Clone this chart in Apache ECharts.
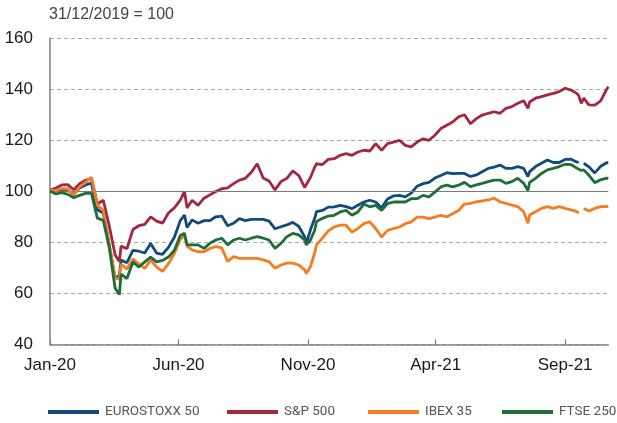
<!DOCTYPE html>
<html>
<head>
<meta charset="utf-8">
<script src="https://cdn.jsdelivr.net/npm/echarts@6/dist/echarts.min.js"></script>
<style>
html,body{margin:0;padding:0;background:#fff;}
#chart{width:617px;height:423px;}
</style>
</head>
<body>
<div id="chart"></div>
<script>
const dates = [
'2020-01-01','2020-01-08','2020-01-15','2020-01-22','2020-01-29','2020-02-05','2020-02-12','2020-02-19','2020-02-26','2020-03-04',
'2020-03-11','2020-03-18','2020-03-23','2020-03-25','2020-04-01','2020-04-08','2020-04-15','2020-04-22','2020-04-29','2020-05-06',
'2020-05-13','2020-05-20','2020-05-27','2020-06-03','2020-06-08','2020-06-11','2020-06-17','2020-06-24','2020-07-01','2020-07-08',
'2020-07-15','2020-07-22','2020-07-29','2020-08-05','2020-08-12','2020-08-19','2020-08-26','2020-09-02','2020-09-09','2020-09-16',
'2020-09-23','2020-09-30','2020-10-07','2020-10-14','2020-10-21','2020-10-28','2020-10-30','2020-11-04','2020-11-09','2020-11-11',
'2020-11-18','2020-11-25','2020-12-02','2020-12-09','2020-12-16','2020-12-23','2020-12-30','2021-01-06','2021-01-13','2021-01-20',
'2021-01-27','2021-02-03','2021-02-10','2021-02-17','2021-02-24','2021-03-03','2021-03-10','2021-03-17','2021-03-24','2021-03-31',
'2021-04-07','2021-04-14','2021-04-21','2021-04-28','2021-05-05','2021-05-12','2021-05-19','2021-05-26','2021-06-02','2021-06-09',
'2021-06-16','2021-06-23','2021-06-30','2021-07-07','2021-07-14','2021-07-19','2021-07-21','2021-07-28','2021-08-04','2021-08-11',
'2021-08-18','2021-08-25','2021-09-01','2021-09-08','2021-09-15','2021-09-17','2021-09-20','2021-09-23','2021-09-29','2021-10-06',
'2021-10-13','2021-10-20','2021-10-22'
];

const eurostoxx50 = [
100,100.3,100.8,100.5,98.8,101.3,102.5,103.2,92.8,91.5,
79,66,67,73,72,76.8,76.5,75.8,79.5,75.8,
75.3,78,82,88.5,90.7,85.8,88.8,87.5,88.5,88.5,
90,90.3,86.5,87.5,89.3,88.5,89,89,89,88.3,
85.3,86.1,86.8,87.8,86.3,82.2,79.5,85,89.5,92,
92.5,93.8,93.9,94.5,94,93.2,94.5,95.8,96.5,95.8,
93.5,97,98.2,98.4,97.8,99.3,102,103,103.5,105.2,
106.2,107.3,106.9,107,107,105.8,106.4,107.7,109,109.5,
110.3,109,109,109.7,109,105.8,107.7,109.7,111,112.3,
111.3,111.3,112.5,112.6,111.4,111.6,null,111,109.6,107.2,
109.8,111.2,111.2
];

const sp500 = [
100.5,101.3,102.5,102.6,100.6,103,104.3,105,95,96.5,
86.5,75,72.5,78.5,77.5,85,86.5,87,90,88.3,
87.5,91.5,93.5,96.5,100,93.5,96.5,94.5,97.3,98.6,
99.9,101,101.3,103,104.4,105.1,107.5,110.8,105.2,104,
100.5,103.8,105.1,108,106.2,101.5,101.2,105.5,109.5,110.8,
110.5,112.5,112.8,114.1,114.8,114.1,115.4,116.1,115.8,118.7,
116.1,118.7,119.3,120,118,117.4,119.3,120.6,120,122,
124.6,125.9,127.2,129.2,130,126.5,128.5,129.9,130.6,131.2,
130.6,132.5,133.2,134.5,135.5,132.5,135,136.5,137.1,137.8,
138.4,139.1,140.4,139.7,138.3,137.5,134.5,136.5,133.9,133.8,
135.5,140,141
];

const ibex35 = [
100.3,100.5,101,101,98.5,101.7,103.5,105.5,94.5,92.5,
79,66,65.5,71.5,69.5,73.5,71.5,69.8,73,70.3,
68.6,71.6,75.6,81.2,83,78.5,77,76.3,76.3,77.6,
78.3,77.8,72.5,74.4,73.7,73.7,73.7,73.7,73.1,72.4,
69.8,71.1,71.8,71.8,71.1,69.2,67.8,70.5,76,79,
81.6,84.5,86,86.7,86.7,84,85.4,87.3,88,85.4,
82.1,84.7,85.4,86,87.3,88,89.9,89.9,89.3,89.9,
90.6,90,91.2,92.5,95,95.3,95.9,96.2,96.6,97.3,
95.9,95.3,94.6,94,92,87.5,90.7,92,93.3,94,
93.3,94,93.3,92.7,92,91.4,null,93.3,92.3,93.3,
94,94,94.2
];

const ftse250 = [
100,99,99.5,98.8,97.5,98.4,99.2,99.2,89.5,88.6,
78,62,59.5,67.5,65.8,72.3,70.3,72.3,74.2,72.3,
72.9,74.2,76.9,82.7,83.5,79,79,79,77.6,79.6,
80.9,81.6,79,80.9,81.6,80.9,81.6,82.2,81.6,80.9,
77.6,79.6,82.2,83.5,82.9,80.9,79,80.9,84.8,88.1,
89.4,90.3,90.6,91.9,92.5,90.6,91.9,95,93.9,94.5,
92.5,95.2,95.8,95.8,95.8,97.1,97.1,98.4,97.8,99.7,
101.7,102.4,101.7,102.4,103.5,101.8,102.5,103.1,103.8,104.4,
104.4,103.1,103.8,105.1,103.1,100.3,103.5,105.1,107,108.4,
109,109.7,110.6,110.5,109,108.6,108.2,108.4,106.3,103.4,
104.5,105.2,105
];

const seriesNames = ['EUROSTOXX 50','S&P 500','IBEX 35','FTSE 250'];
const seriesColors = ['#12497f','#a2283f','#f47c22','#1e6e38'];
const tickDates = ['2020-01-01','2020-06-01','2020-11-01','2021-04-01','2021-09-01'];
const tickLabels = ['Jan-20','Jun-20','Nov-20','Apr-21','Sep-21'];
const axisStart = '2020-01-01';
const axisEnd = '2021-10-22';
const yTicks = [40,60,80,100,120,140,160];
const titleText = '31/12/2019 = 100';

function ts(s){
  const p = s.split('-');
  return Date.UTC(+p[0], +p[1]-1, +p[2]);
}
const tickTs = tickDates.map(ts);
const labelMap = {};
tickTs.forEach((t,i)=>{ labelMap[t] = tickLabels[i]; });

const values = [eurostoxx50, sp500, ibex35, ftse250];
const legendLeft = [48, 227, 368, 502];
const FONT = '"Liberation Sans", Arial, Helvetica, sans-serif';

const chart = echarts.init(document.getElementById('chart'), null, {renderer:'canvas'});

const series = [{
  type:'line', name:'_ref', data:[], silent:true,
  markLine:{
    silent:true, symbol:['none','none'], label:{show:false},
    lineStyle:{color:'#7a7a7a', type:'solid', width:1.2},
    emphasis:{disabled:true},
    data:[{yAxis:100}]
  }
}];
values.forEach((arr,i)=>{
  series.push({
    type:'line', name:seriesNames[i],
    data: dates.map((d,j)=>[ts(d), arr[j]===null ? '-' : arr[j]]),
    showSymbol:false, symbol:'none',
    lineStyle:{width:2.8, color:seriesColors[i]},
    itemStyle:{color:seriesColors[i]},
    emphasis:{disabled:true},
    z: 3 + i
  });
});

const legends = seriesNames.map((n,i)=>({
  data:[n], left:legendLeft[i], top:405, padding:0,
  icon:'rect', itemWidth:51, itemHeight:4,
  selectedMode:false,
  textStyle:{fontFamily:'Roboto, "Liberation Sans", sans-serif', fontSize:13.5, color:'#555', padding:[0,0,0,1]}
}));

chart.setOption({
  animation:false,
  backgroundColor:'#fff',
  title:{
    text:titleText, left:49, top:7, padding:0,
    textStyle:{fontFamily:FONT, fontSize:16, fontWeight:'normal', color:'#444'}
  },
  legend:legends,
  grid:{left:50, right:8.7, top:38.3, bottom:78.7, containLabel:false},
  xAxis:{
    type:'value', min:ts(axisStart), max:ts(axisEnd),
    axisLine:{show:true, lineStyle:{color:'#808080', width:1.5}},
    axisTick:{show:true, inside:true, length:5, customValues:tickTs, lineStyle:{color:'#808080', width:1.2}},
    axisLabel:{
      customValues:tickTs, margin:13, fontFamily:FONT, fontSize:17, color:'#1a1a1a',
      formatter:function(v){ return labelMap[v] !== undefined ? labelMap[v] : ''; }
    },
    splitLine:{show:false}
  },
  yAxis:{
    type:'value', min:yTicks[0], max:yTicks[yTicks.length-1], interval:20,
    axisLine:{show:true, lineStyle:{color:'#808080', width:1.5}},
    axisTick:{show:false},
    axisLabel:{margin:17, fontFamily:FONT, fontSize:17, color:'#1a1a1a'},
    splitLine:{show:true, lineStyle:{color:'#a8a8a8', type:[4,3], width:1}}
  },
  series:series
});
</script>
</body>
</html>
